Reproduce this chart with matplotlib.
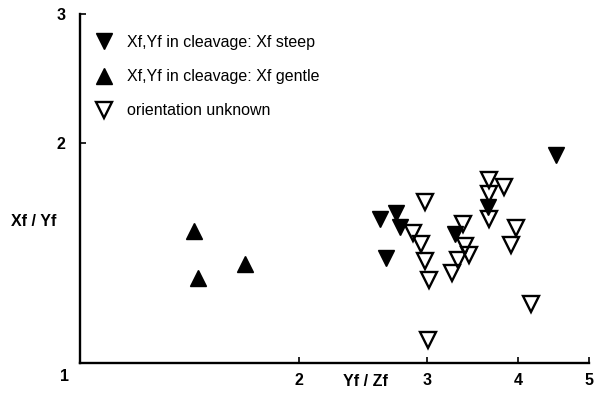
import numpy as np
import matplotlib
matplotlib.use('Agg')
import matplotlib.pyplot as plt
from matplotlib.ticker import FixedLocator, NullLocator

plt.rcParams['font.family'] = ['Liberation Sans', 'DejaVu Sans']

# Yf/Zf (x) and Xf/Yf (y)
steep_x = [2.58, 2.72, 2.75, 2.63, 3.27, 3.63, 4.51]
steep_y = [1.573, 1.603, 1.534, 1.390, 1.501, 1.634, 1.923]

gentle_x = [1.438, 1.453, 1.687]
gentle_y = [1.513, 1.306, 1.366]

unknown_x = [2.98, 3.65, 3.82, 3.64, 3.65, 3.36, 2.87, 2.94, 2.98,
             3.02, 3.97, 3.91, 3.38, 3.42, 3.31, 3.24, 4.16, 3.01]
unknown_y = [1.659, 1.781, 1.742, 1.701, 1.575, 1.550, 1.508, 1.455, 1.380,
             1.297, 1.530, 1.449, 1.446, 1.406, 1.385, 1.327, 1.205, 1.075]

labels = ['Xf,Yf in cleavage: Xf steep', 'Xf,Yf in cleavage: Xf gentle', 'orientation unknown']
xticks = [2, 3, 4, 5]
yticks = [2, 3]

W, H = 594, 399
fig = plt.figure(figsize=(W/100, H/100), dpi=100)
ax = fig.add_axes([79.5/W, 1-363/H, (589-79.5)/W, (363-14)/H])
ax.set_xscale('log')
ax.set_yscale('log')
ax.set_xlim(1, 5)
ax.set_ylim(1, 3)

ms = 11
h3, = ax.plot(unknown_x, unknown_y, 'v', ms=ms, mfc='none', mec='black', mew=1.7)
h1, = ax.plot(steep_x, steep_y, 'v', ms=ms, mfc='black', mec='black', mew=1)
h2, = ax.plot(gentle_x, gentle_y, '^', ms=ms, mfc='black', mec='black', mew=1)

for s in ['top', 'right']:
    ax.spines[s].set_visible(False)
for s in ['left', 'bottom']:
    ax.spines[s].set_linewidth(1.7)

ax.xaxis.set_major_locator(FixedLocator(xticks))
ax.yaxis.set_major_locator(FixedLocator(yticks))
ax.xaxis.set_minor_locator(NullLocator())
ax.yaxis.set_minor_locator(NullLocator())
ax.set_xticklabels([str(t) for t in xticks])
ax.set_yticklabels([str(t) for t in yticks])
ax.tick_params(direction='in', length=4, width=1.2, labelsize=11.5)
ax.tick_params(axis='x', pad=7)
ax.tick_params(axis='y', pad=10)
for t in ax.get_xticklabels() + ax.get_yticklabels():
    t.set_fontweight('bold')

ax.annotate('1', xy=(1, 1), xytext=(-11, -10), textcoords='offset points',
            ha='center', va='center', fontsize=11.5, fontweight='bold')

fig.text(34/W, 1-222/H, 'Xf / Yf', ha='center', va='center', fontsize=11.5, fontweight='bold')
fig.text(365/W, 1-381/H, 'Yf / Zf', ha='center', va='center', fontsize=11.5, fontweight='bold')

ax.legend([h1, h2, h3], labels, loc='upper left', bbox_to_anchor=(96/W, 1-35/H),
          bbox_transform=fig.transFigure, frameon=False, fontsize=11.5,
          handlelength=1.0, handletextpad=0.95, labelspacing=1.2,
          borderpad=0, borderaxespad=0, numpoints=1)

fig.savefig('out.png', dpi=100)
